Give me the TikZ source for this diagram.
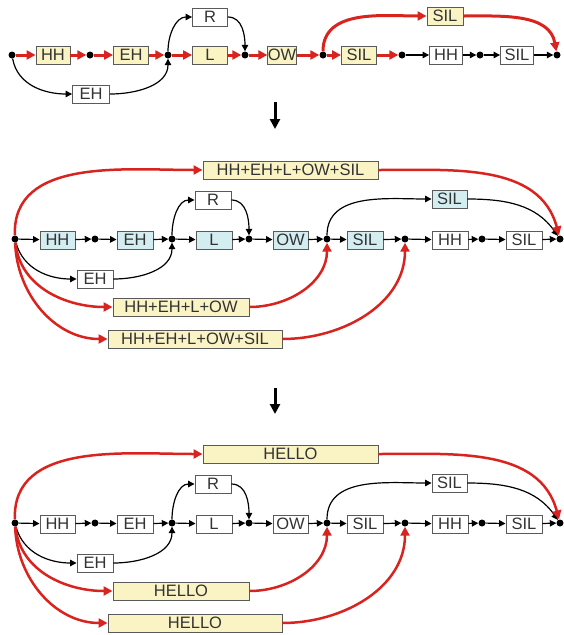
\documentclass[tikz,border=0pt]{standalone}
\usepackage{fontspec}
\setmainfont{Liberation Sans}
\usetikzlibrary{arrows.meta}
\definecolor{yel}{HTML}{FAF4C4}
\definecolor{cya}{HTML}{D3EDF0}
\definecolor{redl}{HTML}{D8231F}
\definecolor{bord}{HTML}{5A5A5A}
\tikzset{
  box/.style={draw=bord, line width=0.9pt, minimum height=18pt, inner sep=0pt,
    font=\fontsize{16.5}{18}\selectfont, text=black!80},
  dot/.style={circle, fill=black, inner sep=0pt, minimum size=7pt},
  blk/.style={line width=1.2pt, -{Triangle[length=6.5pt,width=6.5pt]}},
  rarr/.style={draw=redl, line width=3pt, -{Triangle[length=9pt,width=9pt]}},
  rarrb/.style={draw=redl, line width=2.5pt, -{Triangle[length=9pt,width=9pt]}},
  bigdown/.style={line width=3pt, -{Triangle[length=10pt,width=10pt]}},
}
\newcommand\lowpanel[6]{%
  % #1 prefix, #2 y offset, #3 main fill, #4 top text, #5 box1 text, #6 box2 text
  \begin{scope}[shift={(0,#2)}]
  \node[dot] (#1s) at (15,239) {};
  \node[box,fill=#3,minimum width=35pt] (#1hh) at (57.5,240) {HH};
  \node[dot] (#1d1) at (95,239) {};
  \node[box,fill=#3,minimum width=36pt] (#1eh) at (135,240) {EH};
  \node[dot] (#1j) at (172,239) {};
  \node[box,fill=#3,minimum width=36pt] (#1l) at (214,240) {L};
  \node[dot] (#1d2) at (249,239) {};
  \node[box,fill=#3,minimum width=35pt] (#1ow) at (290.5,240) {OW};
  \node[dot] (#1d3) at (327,239) {};
  \node[box,fill=#3,minimum width=36pt] (#1sil) at (365,240) {SIL};
  \node[dot] (#1d4) at (405,239) {};
  \node[box,minimum width=36pt] (#1hhb) at (450,240) {HH};
  \node[dot] (#1d5) at (482,239) {};
  \node[box,minimum width=36pt] (#1silb) at (524,240) {SIL};
  \node[dot] (#1e) at (560,239) {};
  \node[box,minimum width=36pt] (#1r) at (213,200) {R};
  \node[box,minimum width=36pt] (#1ehb) at (95,279) {EH};
  \node[box,fill=#3,minimum width=35pt] (#1silt) at (449.5,199) {SIL};
  \node[box,fill=yel,minimum width=175pt] (#1top) at (290.5,170) {#4};
  \node[box,fill=yel,minimum width=136pt] (#1b1) at (181,307) {#5};
  \node[box,fill=yel,minimum width=174pt] (#1b2) at (195,339) {#6};
  \draw[blk] (#1s) -- (#1hh);
  \draw[blk] (#1hh) -- (#1d1);
  \draw[blk] (#1d1) -- (#1eh);
  \draw[blk] (#1eh) -- (#1j);
  \draw[blk] (#1j) -- (#1l);
  \draw[blk] (#1l) -- (#1d2);
  \draw[blk] (#1d2) -- (#1ow);
  \draw[blk] (#1ow) -- (#1d3);
  \draw[blk] (#1d3) -- (#1sil);
  \draw[blk] (#1sil) -- (#1d4);
  \draw[blk] (#1d4) -- (#1hhb);
  \draw[blk] (#1hhb) -- (#1d5);
  \draw[blk] (#1d5) -- (#1silb);
  \draw[blk] (#1silb) -- (#1e);
  \draw[blk] (#1s) to[out=-75,in=180] (#1ehb);
  \draw[blk] (#1ehb) to[out=0,in=-90] (#1j);
  \draw[blk] (#1j) to[out=90,in=180] (#1r);
  \draw[blk] (#1r) to[out=0,in=90] (#1d2);
  \draw[blk] (#1d3) to[out=90,in=180] (#1silt);
  \draw[blk] (#1silt) to[out=0,in=125] (#1e);
  \draw[rarrb] (#1s) to[out=92,in=180] (#1top);
  \draw[rarrb] (#1top) to[out=0,in=105] (#1e);
  \draw[rarrb] (#1s) to[out=-84,in=180] (#1b1);
  \draw[rarrb] (#1b1) to[out=0,in=-90] (#1d3);
  \draw[rarrb] (#1s) to[out=-88,in=180] (#1b2);
  \draw[rarrb] (#1b2) to[out=0,in=-90] (#1d4);
  \end{scope}}
\begin{document}
\begin{tikzpicture}[x=1pt,y=-1pt]
\useasboundingbox (0,0) rectangle (564,635);
% ---------- panel 1 ----------
\node[dot] (a0) at (12,55) {};
\node[box,fill=yel,minimum width=34pt] (ahh) at (53,55) {HH};
\node[dot] (a1) at (90,55) {};
\node[box,fill=yel,minimum width=35pt] (aeh) at (131,55) {EH};
\node[dot] (aj) at (168,55) {};
\node[box,fill=yel,minimum width=35pt] (al) at (210,55) {L};
\node[dot] (a2) at (245,55) {};
\node[box,fill=yel,minimum width=28pt] (aow) at (282,55) {OW};
\node[dot] (a3) at (323,55) {};
\node[box,fill=yel,minimum width=35pt] (asil) at (359,55) {SIL};
\node[dot] (a4) at (402,55) {};
\node[box,minimum width=33pt] (ahhb) at (446,55) {HH};
\node[dot] (a5) at (480,55) {};
\node[box,minimum width=33pt] (asilb) at (517,55) {SIL};
\node[dot] (a6) at (557,55) {};
\node[box,minimum width=35pt] (ar) at (210,17) {R};
\node[box,minimum width=37pt] (aehb) at (91,94) {EH};
\node[box,fill=yel,minimum width=36pt] (asilt) at (445,16) {SIL};
\draw[rarr] (a0) -- (ahh);
\draw[rarr] (ahh) -- (a1);
\draw[rarr] (a1) -- (aeh);
\draw[rarr] (aeh) -- (aj);
\draw[rarr] (aj) -- (al);
\draw[rarr] (al) -- (a2);
\draw[rarr] (a2) -- (aow);
\draw[rarr] (aow) -- (a3);
\draw[rarr] (a3) -- (asil);
\draw[rarr] (asil) -- (a4);
\draw[blk] (a4) -- (ahhb);
\draw[blk] (ahhb) -- (a5);
\draw[blk] (a5) -- (asilb);
\draw[blk] (asilb) -- (a6);
\draw[blk] (a0) to[out=-80,in=180] (aehb);
\draw[blk] (aehb) to[out=0,in=-90] (aj);
\draw[blk] (aj) to[out=90,in=180] (ar);
\draw[blk] (ar) to[out=0,in=90] (a2);
\draw[rarr] (a3) to[out=90,in=180] (asilt);
\draw[rarr] (asilt) to[out=0,in=100] (a6);
% ---------- down arrows ----------
\coordinate (u1) at (275,102);
\coordinate (u2) at (275,129);
\draw[bigdown] (u1) -- (u2);
\coordinate (v1) at (275,388);
\coordinate (v2) at (275,414);
\draw[bigdown] (v1) -- (v2);
% ---------- panels 2 and 3 ----------
\lowpanel{b}{0}{cya}{HH+EH+L+OW+SIL}{HH+EH+L+OW}{HH+EH+L+OW+SIL}
\lowpanel{c}{284}{white}{HELLO}{HELLO}{HELLO}
\end{tikzpicture}
\end{document}
